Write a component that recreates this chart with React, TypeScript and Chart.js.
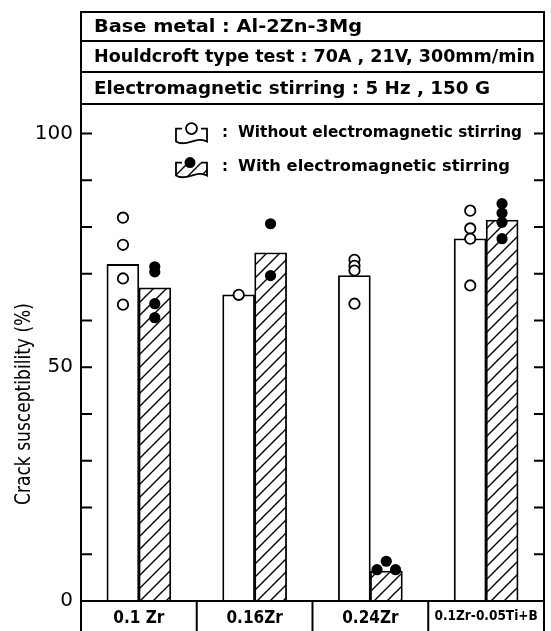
import React, { useEffect, useRef } from 'react';
import { Chart, registerables } from 'chart.js';

Chart.register(...registerables);

const categories = ['0.1 Zr', '0.16Zr', '0.24Zr', '0.1Zr-0.05Ti+B'];
const withoutBars = [72, 65.5, 69.6, 77.5];
const withBars = [67, 74.5, 6.4, 81.5];
const withoutPoints = [
  [82, 76.2, 69, 63.4],
  [65.5],
  [73, 71.7, 70.7, 63.6],
  [83.5, 79.7, 77.5, 67.5],
];
const withPoints = [
  [71.5, 70.4, 63.6, 60.6],
  [80.7, 69.6],
  [8.5, 6.7, 6.7],
  [85, 83, 81, 77.5],
];
const withJitter = [
  [0, 0, 0, 0],
  [0, 0],
  [0, -0.08, 0.08],
  [0, 0, 0, 0],
];
const yTickValues = [0, 10, 20, 30, 40, 50, 60, 70, 80, 90, 100];
const yLabelValues = [0, 50, 100];
const headerLines = [
  'Base metal : Al-2Zn-3Mg',
  'Houldcroft type test : 70A , 21V, 300mm/min',
  'Electromagnetic stirring : 5 Hz , 150 G',
];
const legendLabels = ['Without electromagnetic stirring', 'With electromagnetic stirring'];
const yTitle = 'Crack susceptibility (%)';

const BAR_THICKNESS = 32;

function makeHatch(): CanvasPattern | string {
  const c = document.createElement('canvas');
  const s = 13;
  c.width = s;
  c.height = s;
  const g = c.getContext('2d');
  if (!g) return '#fff';
  g.fillStyle = '#fff';
  g.fillRect(0, 0, s, s);
  g.strokeStyle = '#000';
  g.lineWidth = 1.4;
  g.beginPath();
  g.moveTo(0, s);
  g.lineTo(s, 0);
  g.moveTo(-2, 2);
  g.lineTo(2, -2);
  g.moveTo(s - 2, s + 2);
  g.lineTo(s + 2, s - 2);
  g.stroke();
  const p = g.createPattern(c, 'repeat');
  return p || '#fff';
}

function fitText(ctx: CanvasRenderingContext2D, text: string, x: number, y: number, width: number, align: CanvasTextAlign) {
  const w = ctx.measureText(text).width;
  const s = width / w;
  ctx.save();
  ctx.translate(x, y);
  ctx.scale(s, 1);
  ctx.textAlign = align;
  ctx.fillText(text, 0, 0);
  ctx.restore();
}

function legendSymbol(ctx: CanvasRenderingContext2D, x: number, yc: number, filled: boolean, hatch: CanvasPattern | string) {
  const left = x, right = x + 31;
  const top = yc - 6, bottom = yc + 7;
  ctx.save();
  ctx.beginPath();
  ctx.moveTo(left, top);
  ctx.lineTo(right, top);
  ctx.lineTo(right, bottom);
  ctx.bezierCurveTo(right - 10, bottom - 6, left + 10, bottom + 6, left, bottom);
  ctx.closePath();
  if (filled) {
    ctx.fillStyle = hatch as any;
    ctx.fill();
  }
  ctx.lineWidth = 1.8;
  ctx.strokeStyle = '#000';
  ctx.beginPath();
  ctx.moveTo(left + 6, top);
  ctx.lineTo(left, top);
  ctx.lineTo(left, bottom);
  ctx.bezierCurveTo(left + 10, bottom + 6, right - 10, bottom - 6, right, bottom);
  ctx.lineTo(right, top);
  ctx.lineTo(right - 6, top);
  ctx.stroke();
  const cx = filled ? left + 14 : left + 15.5;
  ctx.beginPath();
  ctx.arc(cx, top, 5.5, 0, Math.PI * 2);
  ctx.fillStyle = filled ? '#000' : '#fff';
  ctx.fill();
  if (!filled) ctx.stroke();
  ctx.restore();
}

export default function App() {
  const ref = useRef<HTMLCanvasElement | null>(null);

  useEffect(() => {
    if (!ref.current) return;
    const hatch = makeHatch();

    const framePlugin = {
      id: 'framePlugin',
      afterDraw(chart: any) {
        const ctx: CanvasRenderingContext2D = chart.ctx;
        const ca = chart.chartArea;
        const ys = chart.scales.y;
        const xs = chart.scales.x;
        const H = chart.height;
        ctx.save();
        ctx.strokeStyle = '#000';
        ctx.fillStyle = '#000';
        ctx.lineWidth = 2;
        ctx.lineCap = 'butt';
        // outer frame
        ctx.beginPath();
        ctx.moveTo(ca.left, H);
        ctx.lineTo(ca.left, ca.top);
        ctx.lineTo(ca.right, ca.top);
        ctx.lineTo(ca.right, H);
        ctx.stroke();
        // header rows
        const rows = [ca.top, ca.top + 29, ca.top + 60, ca.top + 92];
        ctx.beginPath();
        for (const r of rows.slice(1)) {
          ctx.moveTo(ca.left, r);
          ctx.lineTo(ca.right, r);
        }
        // baseline
        ctx.moveTo(ca.left, ca.bottom);
        ctx.lineTo(ca.right, ca.bottom);
        // category dividers
        for (let i = 1; i < categories.length; i++) {
          const xm = (xs.getPixelForValue(i - 1) + xs.getPixelForValue(i)) / 2;
          ctx.moveTo(xm, ca.bottom);
          ctx.lineTo(xm, H);
        }
        ctx.stroke();
        // inward ticks
        ctx.beginPath();
        for (const v of yTickValues) {
          const py = ys.getPixelForValue(v);
          ctx.moveTo(ca.left, py);
          ctx.lineTo(ca.left + 11, py);
          ctx.moveTo(ca.right, py);
          ctx.lineTo(ca.right - 10, py);
        }
        ctx.stroke();
        // header text
        ctx.textBaseline = 'middle';
        ctx.font = 'bold 18px "DejaVu Sans"';
        const widths = [268, 441, 396];
        for (let i = 0; i < headerLines.length; i++) {
          fitText(ctx, headerLines[i], ca.left + 13, (rows[i] + rows[i + 1]) / 2 + 1, widths[i], 'left');
        }
        // legend
        const legY = [ys.getPixelForValue(100), ys.getPixelForValue(100) + 34];
        ctx.font = 'bold 15px "DejaVu Sans"';
        const lw = [284, 272];
        for (let i = 0; i < 2; i++) {
          legendSymbol(ctx, 176, legY[i] + 1, i === 1, hatch);
          ctx.fillStyle = '#000';
          ctx.textAlign = 'left';
          ctx.fillText(':', 222, legY[i]);
          fitText(ctx, legendLabels[i], 238, legY[i], lw[i], 'left');
        }
        // y title
        ctx.font = '21px "DejaVu Sans"';
        ctx.save();
        ctx.translate(25, 404);
        ctx.rotate(-Math.PI / 2);
        fitText(ctx, yTitle, 0, 0, 202, 'center');
        ctx.restore();
        ctx.restore();
      },
    };

    const scatterData = (pts: number[][], sign: number, jit?: number[][]) => (xs: number) =>
      pts.flatMap((arr, i) => arr.map((v, j) => ({ x: i + sign * xs + (jit ? jit[i][j] : 0), y: v })));

    // horizontal offset of each bar centre, in category units (half bar thickness over category width)
    const catWidth = (547 - 81) / categories.length;
    const off = BAR_THICKNESS / 2 / catWidth;

    const chart = new Chart(ref.current, {
      type: 'bar',
      data: {
        labels: categories,
        datasets: [
          {
            type: 'scatter',
            label: 'without points',
            data: scatterData(withoutPoints, -1)(off),
            xAxisID: 'xp',
            yAxisID: 'y',
            pointRadius: 5.2,
            pointBorderWidth: 1.8,
            pointBackgroundColor: '#fff',
            pointBorderColor: '#000',
            order: 1,
          } as any,
          {
            type: 'scatter',
            label: 'with points',
            data: scatterData(withPoints, 1, withJitter)(off),
            xAxisID: 'xp',
            yAxisID: 'y',
            pointRadius: 5.6,
            pointBorderWidth: 0,
            pointBackgroundColor: '#000',
            pointBorderColor: '#000',
            order: 1,
          } as any,
          {
            type: 'bar',
            label: legendLabels[0],
            data: withoutBars,
            backgroundColor: '#fff',
            borderColor: '#000',
            borderWidth: 1.8,
            barThickness: BAR_THICKNESS,
            xAxisID: 'x',
            yAxisID: 'y',
            order: 2,
          },
          {
            type: 'bar',
            label: legendLabels[1],
            data: withBars,
            backgroundColor: hatch as any,
            borderColor: '#000',
            borderWidth: 1.8,
            barThickness: BAR_THICKNESS,
            xAxisID: 'x',
            yAxisID: 'y',
            order: 2,
          },
        ],
      },
      options: {
        responsive: false,
        animation: false,
        devicePixelRatio: 1,
        layout: { padding: { left: 0, right: 1, top: 12, bottom: 0 } },
        plugins: { legend: { display: false }, tooltip: { enabled: false }, title: { display: false } },
        scales: {
          x: {
            type: 'category',
            offset: true,
            grid: { display: false, drawTicks: false },
            border: { display: false },
            ticks: {
              color: '#000',
              padding: 7,
              maxRotation: 0,
              autoSkip: false,
              font: (c: any) =>
                c.index === 3
                  ? { family: '"DejaVu Sans Condensed"', size: 13.5, weight: 'bold' }
                  : { family: '"DejaVu Sans Condensed"', size: 17, weight: 'bold' },
            },
            afterFit: (s: any) => {
              s.height = 30;
              s.paddingLeft = 0;
              s.paddingRight = 0;
            },
          },
          xp: {
            type: 'linear',
            min: -0.5,
            max: 3.5,
            offset: false,
            display: false,
          },
          y: {
            type: 'linear',
            min: 0,
            max: 126,
            grid: { display: false, drawTicks: false },
            border: { display: false },
            afterBuildTicks: (s: any) => {
              s.ticks = yTickValues.map((v) => ({ value: v }));
            },
            ticks: {
              color: '#000',
              padding: 8,
              font: { family: '"DejaVu Sans"', size: 20 },
              callback: (v: any) => (yLabelValues.includes(Number(v)) ? String(v) : ''),
            },
            afterFit: (s: any) => {
              s.width = 81;
              s.paddingTop = 0;
              s.paddingBottom = 0;
            },
          },
        },
      } as any,
      plugins: [framePlugin],
    });
    return () => chart.destroy();
  }, []);

  return (
    <div style={{ position: 'absolute', left: 0, top: 0, width: 551, height: 631, background: '#fff' }}>
      <canvas ref={ref} width={551} height={631} style={{ display: 'block' }} />
    </div>
  );
}
